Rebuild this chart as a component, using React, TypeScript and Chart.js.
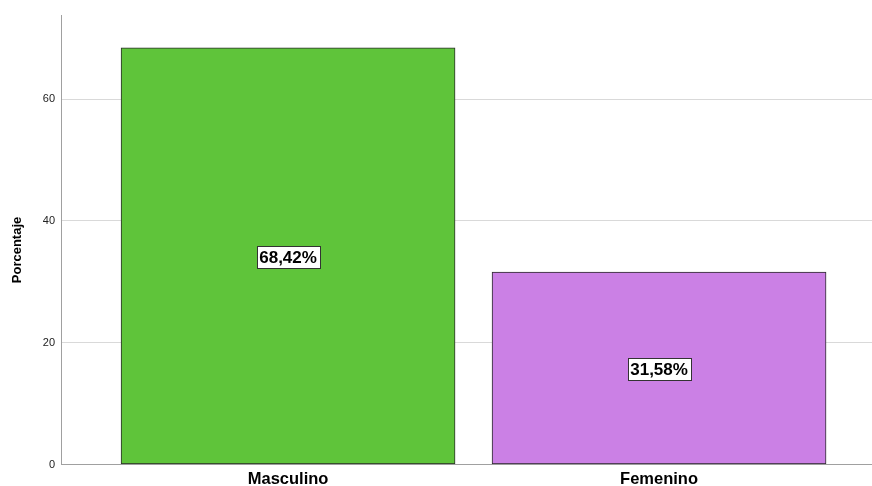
import React, { useEffect, useRef } from "react";
import { Chart, registerables } from "chart.js";

Chart.register(...registerables);

const categories = ["Masculino", "Femenino"];
const values = [68.42, 31.58];
const valueLabels = ["68,42%", "31,58%"];
const barColors = ["#5fc43a", "#cb80e5"];
const yTicks = [0, 20, 40, 60];
const yTitle = "Porcentaje";

const FONT = "'Liberation Sans', Arial, sans-serif";

const labelPlugin = {
  id: "boxLabels",
  afterDatasetsDraw(chart: any) {
    const ctx = chart.ctx;
    const meta = chart.getDatasetMeta(0);
    ctx.save();
    ctx.font = `bold 17px ${FONT}`;
    ctx.textAlign = "center";
    ctx.textBaseline = "middle";
    meta.data.forEach((bar: any, i: number) => {
      const cx = bar.x;
      const cy = (bar.y + bar.base) / 2 + 1;
      const text = valueLabels[i];
      const w = Math.round(ctx.measureText(text).width + 5);
      const h = 22;
      const x0 = Math.round(cx - w / 2) + 0.5;
      const y0 = Math.round(cy - h / 2) + 0.5;
      ctx.fillStyle = "#ffffff";
      ctx.fillRect(x0, y0, w, h);
      ctx.strokeStyle = "#333333";
      ctx.lineWidth = 1;
      ctx.strokeRect(x0, y0, w, h);
      ctx.fillStyle = "#000000";
      ctx.fillText(text, cx, cy + 1);
    });
    // y axis title
    ctx.save();
    ctx.translate(17, 250);
    ctx.rotate(-Math.PI / 2);
    ctx.font = `bold 13px ${FONT}`;
    ctx.fillText(yTitle, 0, 0);
    ctx.restore();
    ctx.restore();
  },
};

export default function App() {
  const ref = useRef<HTMLCanvasElement>(null);
  useEffect(() => {
    if (!ref.current) return;
    const chart = new Chart(ref.current, {
      type: "bar",
      data: {
        datasets: [
          {
            data: values.map((v, i) => ({ x: i, y: v })),
            backgroundColor: barColors,
            borderColor: "#2a2a2a",
            borderWidth: 1,
            borderSkipped: false,
            barThickness: 334,
          },
        ],
      },
      options: {
        animation: false,
        responsive: false,
        maintainAspectRatio: false,
        layout: { padding: { top: 15, right: 0, left: 0, bottom: 0 } },
        plugins: { legend: { display: false }, tooltip: { enabled: false } },
        scales: {
          x: {
            type: "linear",
            offset: false,
            min: -0.612,
            max: 1.574,
            afterBuildTicks: (scale: any) => {
              scale.ticks = categories.map((_, i) => ({ value: i }));
            },
            afterFit: (scale: any) => {
              scale.height = 21.5;
            },
            ticks: {
              autoSkip: false,
              maxRotation: 0,
              padding: 5,
              color: "#000000",
              font: { family: FONT, size: 16.5, weight: "bold" },
              callback: (v: any) => categories[v] ?? "",
            },
            grid: { display: false, drawTicks: false, offset: false },
            border: { display: true, color: "#a0a0a0", width: 1 },
          },
          y: {
            min: 0,
            max: 73.8,
            afterBuildTicks: (scale: any) => {
              scale.ticks = yTicks.map((v) => ({ value: v }));
            },
            afterFit: (scale: any) => {
              scale.width = 61;
            },
            ticks: {
              padding: 6,
              color: "#222222",
              font: { family: FONT, size: 11 },
            },
            grid: { color: "#d9d9d9", lineWidth: 1, drawTicks: false },
            border: { display: true, color: "#a0a0a0", width: 1 },
          },
        },
      },
      plugins: [labelPlugin],
    } as any);
    return () => chart.destroy();
  }, []);
  return (
    <div style={{ position: "fixed", left: 0, top: 0, width: 872, height: 486, background: "#fff" }}>
      <canvas ref={ref} width={872} height={486} style={{ width: 872, height: 486 }} />
    </div>
  );
}
